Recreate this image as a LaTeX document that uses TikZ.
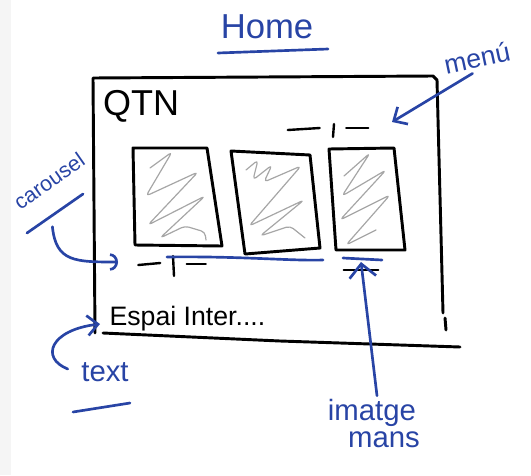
\documentclass[tikz,border=0pt]{standalone}
\usepackage{fontspec}
\setmainfont{Liberation Sans}
\usetikzlibrary{arrows.meta,calc}
\definecolor{ink}{RGB}{40,68,165}
\begin{document}
\begin{tikzpicture}[x=0.75pt,y=-0.75pt,line cap=round,line join=round,
  frame/.style={draw=black,line width=2.2pt},
  thinframe/.style={draw=black,line width=1.8pt},
  inkline/.style={draw=ink,line width=2pt},
  inkarrow/.style={inkline,-{Straight Barb[length=8pt,width=15pt]}},
  bigarrow/.style={inkline,-{Straight Barb[length=10pt,width=20pt]}},
  arcarrow/.style={inkline,-{Arc Barb[length=6pt,width=13pt]}},
  hatch/.style={draw=gray!70,line width=0.9pt,rounded corners=3pt},
  inktext/.style={text=ink,inner sep=1pt},
  blacktext/.style={text=black,inner sep=1pt},
  indicator/.style={minimum width=#1*0.75pt,minimum height=12pt,inner sep=0pt}]
\path[use as bounding box] (0,0) rectangle (531,475);
\fill[gray!8] (0,0) rectangle (11,475);

% window frame
\draw[frame] (95,333) -- (93,78) -- (433,76) -- (437,80) -- (443,313);
\draw[frame] (103,333) -- (280,341) -- (460,347);
\draw[frame] (445,318) -- (446,330);

% image boxes
\draw[frame] (133,148) -- (207,148) -- (222,246) -- (135,245) -- cycle;
\draw[frame] (231,151) -- (310,155) -- (320,248) -- (245,254) -- cycle;
\draw[frame] (329,149) -- (394,148) -- (405,250) -- (336,250) -- cycle;

% scribbles
\draw[hatch] (150,168) -- (172,152) -- (146,196) -- (198,172) -- (148,225) -- (205,196) -- (160,238) -- (185,226) -- (205,232) -- (206,240);
\draw[hatch] (246,170) -- (258,160) -- (253,180) -- (272,165) -- (264,182) -- (301,166) -- (249,226) -- (304,200) -- (260,236) -- (290,226) -- (305,238);
\draw[hatch] (344,176) -- (370,153) -- (342,196) -- (386,170) -- (340,220) -- (390,195) -- (346,245) -- (376,230);

% indicators
\node[indicator=80] (menubar) at (328,130) {};
\draw[thinframe] (menubar.west) -- ++(32,-2);
\draw[thinframe] ($(menubar.center)+(6,-6)$) -- ++(-1,13);
\draw[thinframe] ($(menubar.east)+(-22,-2)$) -- ++(22,0);

\node[indicator=67] (dots1) at (172,265) {};
\draw[thinframe] (dots1.west) -- ++(22,-2);
\draw[thinframe] ($(dots1.center)+(1,-9)$) -- ++(1,20);
\draw[thinframe] ($(dots1.east)+(-19,-1)$) -- ++(19,0);

\node[indicator=34] (dots3) at (361,270) {};
\draw[thinframe] (dots3.west) -- (dots3.east);

% texts
\node[blacktext,font=\fontsize{27}{27}\selectfont] (qtn) at (141,106) {QTN};
\node[blacktext,anchor=base west,font=\fontsize{20}{20}\selectfont] (espai) at (108,325) {Espai Inter....};

\node[inktext,font=\fontsize{26}{26}\selectfont] (home) at (267,27) {Home};
\node[inktext,rotate=12,font=\fontsize{20}{20}\selectfont] (menu) at (477,58) {menú};
\node[inktext,rotate=35,font=\fontsize{16}{16}\selectfont] (carousel) at (49,181) {carousel};
\node[inktext,font=\fontsize{22}{22}\selectfont] (textlbl) at (105,372) {text};
\node[inktext,font=\fontsize{22}{22}\selectfont] (imatge) at (372,413) {imatge};
\node[inktext,font=\fontsize{22}{22}\selectfont] (mans) at (384,440) {mans};

% underlines
\draw[inkline] (218,53) -- (328,49);
\draw[inkline] (73,412) -- (130,403);
\draw[inkline] (27,233) -- (83,194);

% carousel extent line
\draw[inkline] (167,257) .. controls (240,256) and (290,261) .. (323,260);
\draw[inkline] (343,258) -- (382,260);

% connectors
\coordinate (menutip) at (392,122);
\coordinate (cartip) at (118,262);
\coordinate (texttip) at (100,324);
\coordinate (imgtip) at (361,262);

\draw[inkarrow,shorten <=6pt] (menu.south) -- (menutip);
\draw[arcarrow] (carousel.south) ++(-2,38) .. controls (56,262) and (75,262) .. (cartip);
\draw[inkarrow] (textlbl.west) ++(-12,-3) .. controls (40,358) and (50,330) .. (texttip);
\draw[bigarrow] (imatge.north) ++(5,-2) -- (imgtip);
\end{tikzpicture}
\end{document}
